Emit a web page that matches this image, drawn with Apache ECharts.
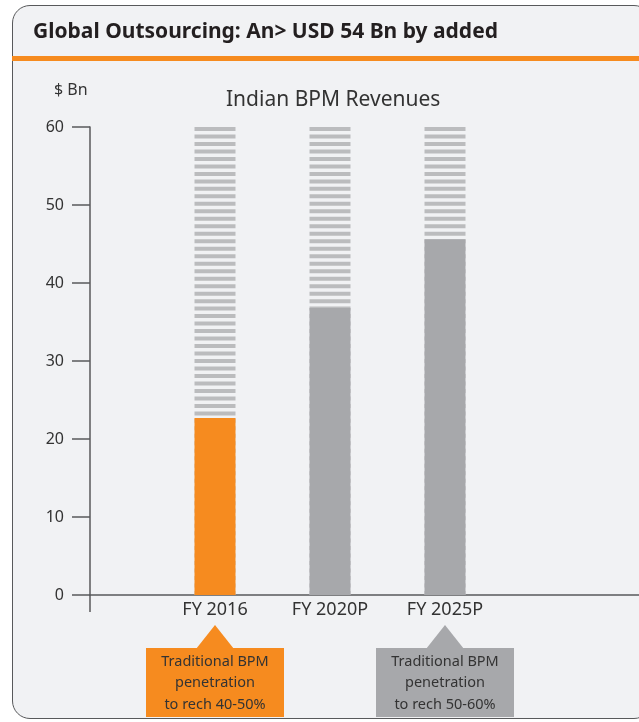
<!DOCTYPE html>
<html><head><meta charset="utf-8">
<script src="https://cdn.jsdelivr.net/npm/echarts@6/dist/echarts.min.js"></script>
<style>
html,body{margin:0;padding:0;background:#fff;overflow:hidden;width:639px;height:722px}
#card{position:absolute;left:12px;top:5px;width:640px;height:714px;border:1px solid #58595b;border-radius:18px;background:#f1f2f4;box-sizing:border-box}
#c{position:absolute;left:0;top:0;width:639px;height:722px}
</style>
</head><body><div id="card"></div><div id="c"></div>
<script>
const FONT = 'Noto Sans';
const mainTitle = 'Global Outsourcing: An> USD 54 Bn by added';
const chartTitle = 'Indian BPM Revenues';
const unitLabel = '$ Bn';
const categories = ['FY 2016', 'FY 2020P', 'FY 2025P'];
const revenues = [22.7, 36.8, 45.6];
const potential = [60, 60, 60];
const barColors = ['#f68b1f', '#a7a8ab', '#a7a8ab'];
const yMin = 0, yMax = 60, yStep = 10;
const calloutCats = ['FY 2016', 'FY 2025P'];
const calloutLines = [
  ['Traditional BPM', 'penetration', 'to rech 40-50%'],
  ['Traditional BPM', 'penetration', 'to rech 50-60%']
];
const calloutColors = ['#f68b1f', '#a7a8ab'];

const chart = echarts.init(document.getElementById('c'), null, {renderer: 'canvas'});
const axisColor = '#58595b';
const option = {
  animation: false,
  textStyle: {fontFamily: FONT},
  title: [
    {text: mainTitle, left: 28, top: 17, textStyle: {fontFamily: FONT, fontWeight: 'bold', fontSize: 21, color: '#231f20'}},
    {text: chartTitle, left: 221, top: 85, textStyle: {fontFamily: FONT, fontWeight: 'normal', fontSize: 21, color: '#333'}},
    {text: unitLabel, left: 49, top: 77, textStyle: {fontFamily: FONT, fontWeight: 'normal', fontSize: 16, color: '#333'}}
  ],
  grid: [
    {left: 90, right: 0, top: 127, bottom: 127},
    {left: 157.5, width: 345, top: 127, bottom: 127}
  ],
  xAxis: [
    {type: 'category', gridIndex: 0, data: categories, axisLine: {lineStyle: {color: axisColor, width: 1.5}}, axisTick: {show: false}, axisLabel: {show: false}},
    {type: 'category', gridIndex: 1, data: categories, axisLine: {show: false}, axisTick: {show: false},
     axisLabel: {color: '#333', fontSize: 18, margin: 6, fontFamily: FONT}}
  ],
  yAxis: [
    {type: 'value', gridIndex: 0, min: yMin, max: yMax, interval: yStep,
     axisLine: {show: true, lineStyle: {color: axisColor, width: 1.5}},
     axisTick: {show: true, length: 18, lineStyle: {color: axisColor, width: 1.5}},
     axisLabel: {color: '#333', fontSize: 16, margin: 26, fontFamily: FONT},
     splitLine: {show: false}},
    {type: 'value', gridIndex: 1, min: yMin, max: yMax, interval: yStep, show: false, splitLine: {show: false}}
  ],
  series: [
    {type: 'pictorialBar', xAxisIndex: 1, yAxisIndex: 1, data: potential, symbol: 'rect',
     symbolRepeat: true, symbolRepeatDirection: 'end', symbolSize: [41, 4], symbolMargin: 1.75,
     itemStyle: {color: '#bbbcbe'}, z: 2, silent: true},
    {type: 'bar', xAxisIndex: 1, yAxisIndex: 1, barWidth: 41, z: 3,
     data: revenues.map((v, i) => ({value: v, itemStyle: {color: barColors[i]}}))}
  ]
};
chart.setOption(option);

const graphics = [];
const originY = chart.convertToPixel({yAxisIndex: 0}, 0);
graphics.push({type: 'line', shape: {x1: 90, y1: originY, x2: 90, y2: originY + 17}, style: {stroke: axisColor, lineWidth: 1.5}});
calloutCats.forEach((cat, i) => {
  const cx = chart.convertToPixel({xAxisIndex: 1}, cat);
  const top = originY + 30, boxTop = originY + 53, w = 138, h = 69;
  graphics.push({type: 'polygon', shape: {points: [[cx, top], [cx - 19, boxTop + 1], [cx + 19, boxTop + 1]]}, style: {fill: calloutColors[i]}});
  graphics.push({type: 'rect', shape: {x: cx - w / 2, y: boxTop, width: w, height: h}, style: {fill: calloutColors[i]}});
  calloutLines[i].forEach((ln, j) => {
    graphics.push({type: 'text', x: cx, y: boxTop + 14 + j * 21.3,
      style: {text: ln, fill: '#333', font: '14.5px ' + FONT, textAlign: 'center', textVerticalAlign: 'middle'}});
  });
});
graphics.push({type: 'rect', shape: {x: 12, y: 56, width: 640, height: 5}, style: {fill: '#f68b1f'}});
chart.setOption({graphic: graphics});
</script>
</body></html>
